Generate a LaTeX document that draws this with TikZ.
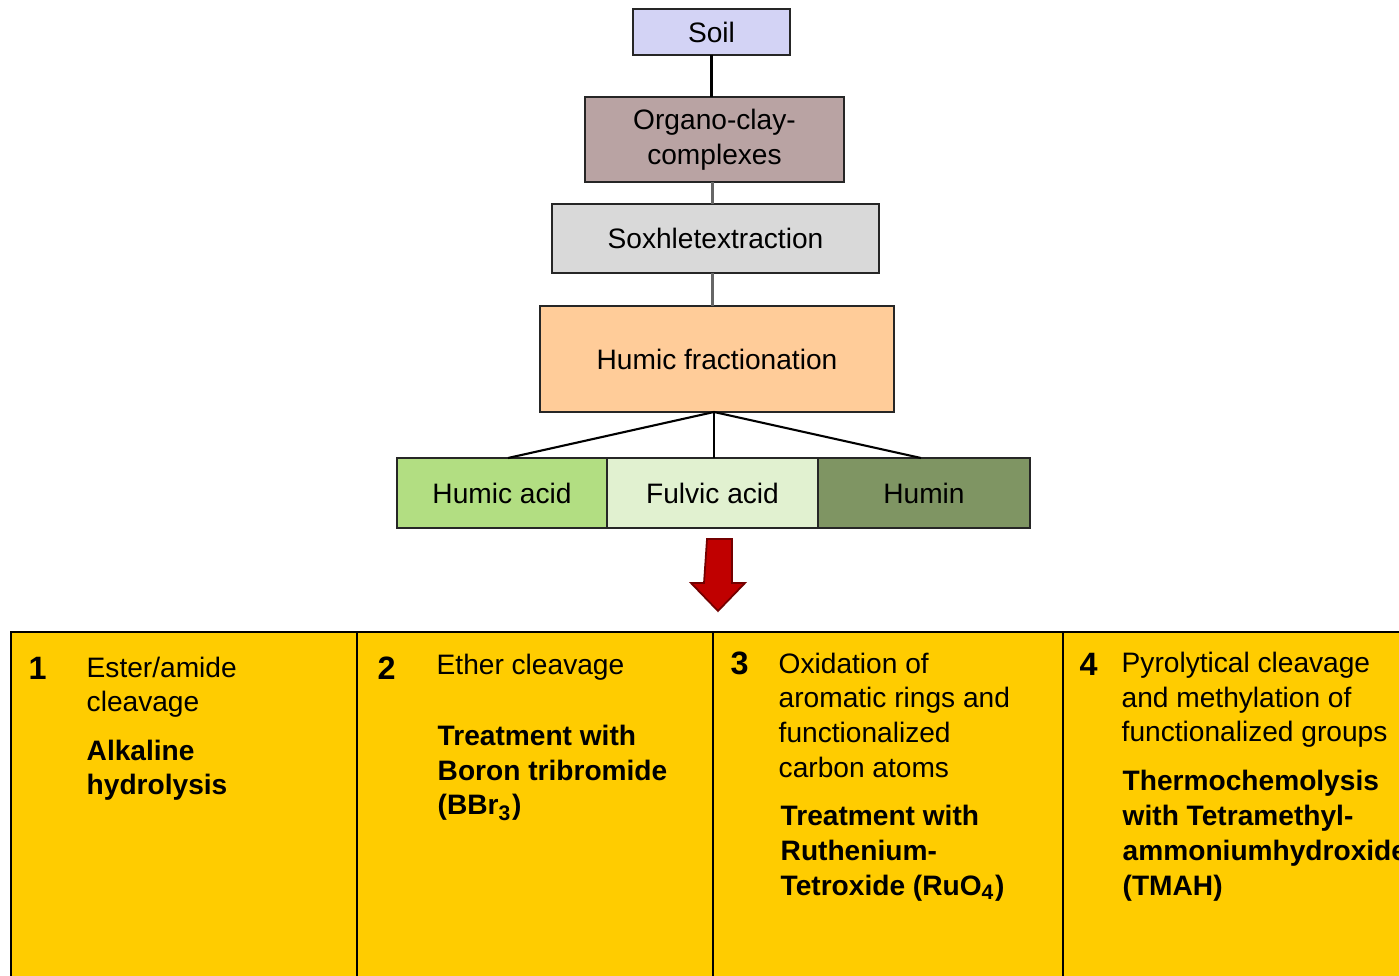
\documentclass[tikz,border=0pt]{standalone}
\usepackage{fontspec}
\setmainfont{Liberation Sans}
\usetikzlibrary{positioning}

\definecolor{soilcol}{HTML}{D3D3F5}
\definecolor{claycol}{HTML}{B9A3A3}
\definecolor{soxcol}{HTML}{D9D9D9}
\definecolor{fraccol}{HTML}{FFCC99}
\definecolor{hacidcol}{HTML}{B2DE82}
\definecolor{facidcol}{HTML}{E1F1D0}
\definecolor{humincol}{HTML}{7F9563}
\definecolor{arrowcol}{HTML}{C00000}
\definecolor{panelcol}{HTML}{FFCC00}

\begin{document}
\begin{tikzpicture}[
		box/.style={draw=black!85, line width=0.6pt, inner sep=0pt, outer sep=0pt, align=center, font=\fontsize{8}{10}\selectfont},
		link/.style={line width=0.6pt},
		panel/.style={draw=black, line width=0.8pt, fill=panelcol, anchor=north west, minimum width=#1, minimum height=3.6cm, inner sep=0pt, outer sep=0pt},
		num/.style={anchor=base west, inner sep=0pt, font=\fontsize{9.2}{11}\selectfont\bfseries},
		txt/.style={anchor=base west, inner sep=0pt, align=left, font=\fontsize{8}{9.9}\selectfont},
		boldtxt/.style={txt, font=\fontsize{8}{9.9}\selectfont\bfseries}
	]
			\clip (0,0) rectangle (13.99,-9.76);

			% extraction chain
			\node[box, fill=soilcol, minimum width=1.57cm, minimum height=0.46cm] (soil) at (7.115,-0.32) {Soil};
			\node[box, fill=claycol, minimum width=2.59cm, minimum height=0.85cm] (clay) at (7.145,-1.395) {Organo-clay-\\complexes};
			\node[box, fill=soxcol, minimum width=3.27cm, minimum height=0.69cm] (sox) at (7.155,-2.385) {Soxhletextraction};
			\node[box, fill=fraccol, minimum width=3.54cm, minimum height=1.06cm] (frac) at (7.17,-3.59) {Humic fractionation};

			% fractions
			\node[box, fill=hacidcol, minimum width=2.10cm, minimum height=0.70cm] (hacid) at (5.02,-4.93) {Humic acid};
			\node[box, fill=facidcol, minimum width=2.11cm, minimum height=0.70cm, right=0pt of hacid] (facid) {Fulvic acid};
			\node[box, fill=humincol, minimum width=2.12cm, minimum height=0.70cm, right=0pt of facid] (humin) {Humin};

			\draw[link] (soil.south) -- (soil.south |- clay.north);
			\draw[link, black!60] ([xshift=-0.02cm]clay.south) -- ([xshift=-0.02cm]clay.south |- sox.north);
			\draw[link, black!60] ([xshift=-0.03cm]sox.south) -- ([xshift=-0.03cm]sox.south |- frac.north);
			\draw[link] ([xshift=-0.03cm]frac.south) -- ([xshift=0.06cm]hacid.north);
			\draw[link] ([xshift=-0.03cm]frac.south) -- ([xshift=-0.03cm]frac.south |- facid.north);
			\draw[link] ([xshift=-0.03cm]frac.south) -- ([xshift=-0.03cm]humin.north);

			% block arrow
			\draw[draw=arrowcol!60!black, fill=arrowcol, line width=0.5pt]
				(7.07,-5.39) -- (7.32,-5.39) -- (7.32,-5.83) -- (7.45,-5.83) -- (7.18,-6.11)
				-- (6.91,-5.83) -- (7.04,-5.83) -- cycle;

			% methods (text nodes sit on the baseline of their last line)
			\node[panel=3.46cm] (p1) at (0.11,-6.32) {};
			\node[panel=3.56cm] (p2) at (3.57,-6.32) {};
			\node[panel=3.50cm] (p3) at (7.13,-6.32) {};
			\node[panel=3.70cm] (p4) at (10.63,-6.32) {};

			\node[num] (n1) at (0.28,-6.80) {1};
			\node[txt] (t1) at (0.86,-7.12) {Ester/amide\\cleavage};
			\node[boldtxt] (b1) at (0.86,-7.95) {Alkaline\\hydrolysis};

			\node[num] (n2) at (3.77,-6.79) {2};
			\node[txt] (t2) at (4.36,-6.75) {Ether cleavage};
			\node[boldtxt] (b2) at (4.37,-8.15) {Treatment with\\Boron tribromide\\(BBr\textsubscript{3})};

			\node[num] (n3) at (7.30,-6.75) {3};
			\node[txt] (t3) at (7.78,-7.775) {Oxidation of\\aromatic rings and\\functionalized\\carbon atoms};
			\node[boldtxt] (b3) at (7.80,-8.95) {Treatment with\\Ruthenium-\\Tetroxide (RuO\textsubscript{4})};

			\node[num] (n4) at (10.79,-6.76) {4};
			\node[txt] (t4) at (11.21,-7.42) {Pyrolytical cleavage\\and methylation of\\functionalized groups};
			\node[boldtxt] (b4) at (11.22,-8.95) {Thermochemolysis\\with Tetramethyl-\\ammoniumhydroxide\\(TMAH)};
		\end{tikzpicture}
\end{document}
